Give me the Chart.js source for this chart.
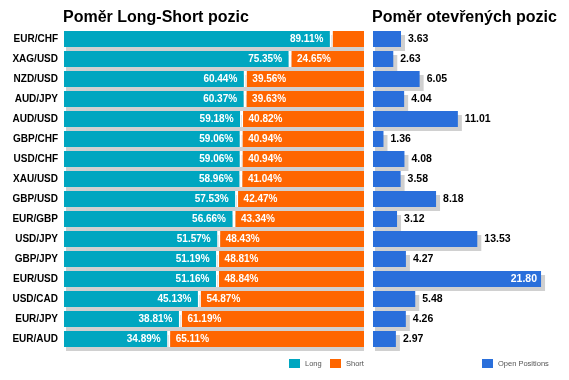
<!DOCTYPE html>
<html>
<head>
<meta charset="utf-8">
<script src="https://cdn.jsdelivr.net/npm/chart.js@4/dist/chart.umd.min.js"></script>
<style>
  html, body { margin: 0; padding: 0; background: #fff; }
  body { width: 569px; height: 380px; position: relative; overflow: hidden; }
  canvas { position: absolute; top: 0; }
  #c1 { left: 0; }
  #c2 { left: 368px; }
</style>
</head>
<body>
<canvas id="c1" width="369" height="380"></canvas>
<canvas id="c2" width="201" height="380"></canvas>
<script>
const categories = ['EUR/CHF','XAG/USD','NZD/USD','AUD/JPY','AUD/USD','GBP/CHF','USD/CHF','XAU/USD','GBP/USD','EUR/GBP','USD/JPY','GBP/JPY','EUR/USD','USD/CAD','EUR/JPY','EUR/AUD'];
const longValues = [89.11, 75.35, 60.44, 60.37, 59.18, 59.06, 59.06, 58.96, 57.53, 56.66, 51.57, 51.19, 51.16, 45.13, 38.81, 34.89];
const shortValues = [10.89, 24.65, 39.56, 39.63, 40.82, 40.94, 40.94, 41.04, 42.47, 43.34, 48.43, 48.81, 48.84, 54.87, 61.19, 65.11];
const openPositions = [3.63, 2.63, 6.05, 4.04, 11.01, 1.36, 4.08, 3.58, 8.18, 3.12, 13.53, 4.27, 21.80, 5.48, 4.26, 2.97];
const seriesNames = ['Long', 'Short', 'Open Positions'];
const titleLeft = 'Poměr Long-Short pozic';
const titleRight = 'Poměr otevřených pozic';

const TEAL = '#00a6c0';
const ORANGE = '#ff6600';
const BLUE = '#2a6fdb';
const SHADOW = '#d0d0d0';
const FONT = '"Liberation Sans", Arial, sans-serif';

const shadowPlugin = {
  id: 'rowShadow',
  beforeDatasetsDraw(chart) {
    const ctx = chart.ctx, a = chart.chartArea;
    ctx.save();
    ctx.beginPath();
    ctx.rect(a.left, a.top, a.right - a.left, a.bottom - a.top + 8);
    ctx.clip();
    ctx.fillStyle = SHADOW;
    const metas = chart.getSortedVisibleDatasetMetas();
    const n = chart.data.labels.length;
    for (let i = 0; i < n; i++) {
      let x0 = Infinity, x1 = -Infinity, y = 0, h = 0;
      metas.forEach(m => {
        const p = m.data[i].getProps(['x', 'y', 'base', 'height'], true);
        x0 = Math.min(x0, p.base, p.x);
        x1 = Math.max(x1, p.base, p.x);
        y = p.y; h = p.height;
      });
      ctx.fillRect(x0 + 2, y - h / 2 + 4, x1 - x0 + 2, h);
    }
    ctx.restore();
  }
};

function titleLegendPlugin(title, titleX, legendItems) {
  return {
    id: 'titleLegend',
    afterDraw(chart) {
      const ctx = chart.ctx;
      ctx.save();
      ctx.fillStyle = '#000';
      ctx.font = 'bold 16px ' + FONT;
      ctx.textAlign = 'left';
      ctx.textBaseline = 'alphabetic';
      ctx.fillText(title, titleX, 22);
      ctx.font = '7.5px ' + FONT;
      ctx.textBaseline = 'middle';
      legendItems.forEach(it => {
        ctx.fillStyle = it.color;
        ctx.fillRect(it.x, 359, 11, 9);
        ctx.fillStyle = '#555';
        ctx.fillText(it.text, it.x + 16, 364);
      });
      ctx.restore();
    }
  };
}

const stackLabelPlugin = {
  id: 'stackLabels',
  afterDatasetsDraw(chart) {
    const ctx = chart.ctx;
    ctx.save();
    ctx.font = 'bold 10px ' + FONT;
    ctx.fillStyle = '#fff';
    ctx.textBaseline = 'middle';
    const mLong = chart.getDatasetMeta(0), mShort = chart.getDatasetMeta(1);
    categories.forEach((c, i) => {
      const pl = mLong.data[i].getProps(['x', 'y', 'base'], true);
      const ps = mShort.data[i].getProps(['x', 'y', 'base'], true);
      const t1 = longValues[i].toFixed(2) + '%';
      const t2 = shortValues[i].toFixed(2) + '%';
      const w1 = ctx.measureText(t1).width, w2 = ctx.measureText(t2).width;
      if (w1 + 12 < pl.x - pl.base) { ctx.textAlign = 'right'; ctx.fillText(t1, pl.x - 8, pl.y + 0.5); }
      if (w2 + 12 < ps.x - ps.base) { ctx.textAlign = 'left'; ctx.fillText(t2, ps.base + 7, ps.y + 0.5); }
    });
    ctx.restore();
  }
};

const valueLabelPlugin = {
  id: 'valueLabels',
  afterDatasetsDraw(chart) {
    const ctx = chart.ctx, a = chart.chartArea;
    ctx.save();
    ctx.font = 'bold 10.5px ' + FONT;
    ctx.textBaseline = 'middle';
    const m = chart.getDatasetMeta(0);
    openPositions.forEach((v, i) => {
      const p = m.data[i].getProps(['x', 'y'], true);
      const t = v.toFixed(2);
      const w = ctx.measureText(t).width;
      if (p.x + 7 + w > a.right + 8) {
        ctx.fillStyle = '#fff'; ctx.textAlign = 'right';
        ctx.fillText(t, p.x - 4, p.y + 0.5);
      } else {
        ctx.fillStyle = '#000'; ctx.textAlign = 'left';
        ctx.fillText(t, p.x + 7, p.y + 0.5);
      }
    });
    ctx.restore();
  }
};

Chart.defaults.font.family = FONT;

new Chart(document.getElementById('c1'), {
  type: 'bar',
  data: {
    labels: categories,
    datasets: [
      { label: seriesNames[0], data: longValues, backgroundColor: TEAL, borderColor: '#fff',
        borderWidth: { left: 0, right: 1.5, top: 0, bottom: 0 }, borderSkipped: false },
      { label: seriesNames[1], data: shortValues, backgroundColor: ORANGE, borderColor: '#fff',
        borderWidth: { left: 1.5, right: 0, top: 0, bottom: 0 }, borderSkipped: false }
    ]
  },
  options: {
    indexAxis: 'y',
    responsive: false,
    animation: false,
    devicePixelRatio: 1,
    layout: { padding: { top: 29, bottom: 31, left: 0, right: 5 } },
    datasets: { bar: { categoryPercentage: 1, barPercentage: 0.8 } },
    scales: {
      x: { stacked: true, display: false, min: 0, max: 100 },
      y: {
        stacked: true,
        grid: { display: false, drawTicks: false },
        border: { display: false },
        ticks: { color: '#000', font: { size: 10, weight: 'bold' }, padding: 6 },
        afterFit(s) { s.width = 64; }
      }
    },
    plugins: { legend: { display: false }, title: { display: false }, tooltip: { enabled: false } }
  },
  plugins: [shadowPlugin, stackLabelPlugin,
    titleLegendPlugin(titleLeft, 63, [
      { text: seriesNames[0], color: TEAL, x: 289 },
      { text: seriesNames[1], color: ORANGE, x: 330 }
    ])]
});

new Chart(document.getElementById('c2'), {
  type: 'bar',
  data: {
    labels: categories,
    datasets: [
      { label: seriesNames[2], data: openPositions, backgroundColor: BLUE, borderWidth: 0 }
    ]
  },
  options: {
    indexAxis: 'y',
    responsive: false,
    animation: false,
    devicePixelRatio: 1,
    layout: { padding: { top: 29, bottom: 31, left: 5, right: 11 } },
    datasets: { bar: { categoryPercentage: 1, barPercentage: 0.8 } },
    scales: {
      x: { display: false, min: 0, max: 24 },
      y: { display: false }
    },
    plugins: { legend: { display: false }, title: { display: false }, tooltip: { enabled: false } }
  },
  plugins: [shadowPlugin, valueLabelPlugin,
    titleLegendPlugin(titleRight, 4, [
      { text: seriesNames[2], color: BLUE, x: 114 }
    ])]
});
</script>
</body>
</html>
